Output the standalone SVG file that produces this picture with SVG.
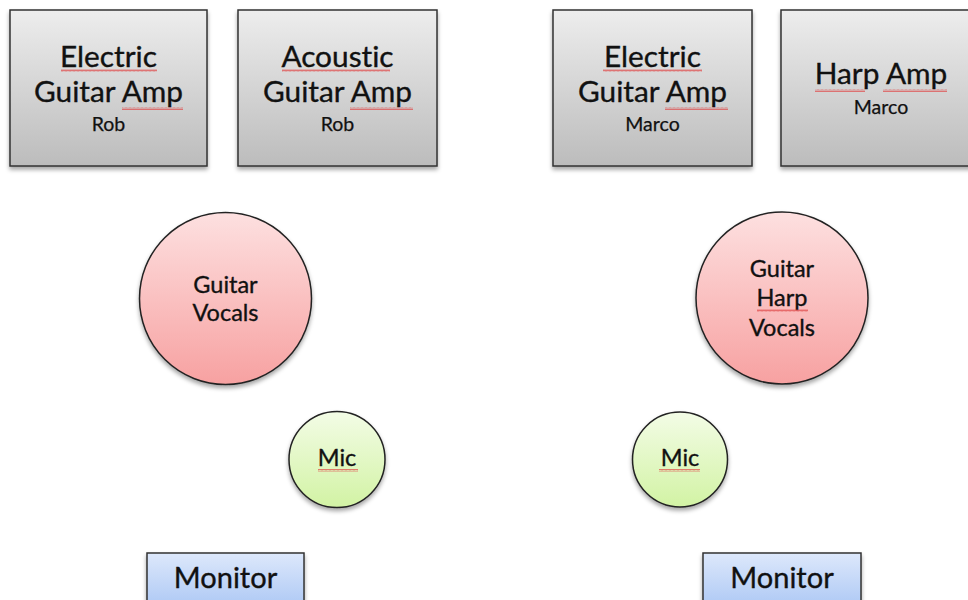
<svg xmlns="http://www.w3.org/2000/svg" width="968" height="600" viewBox="0 0 968 600">
  <defs>
    <linearGradient id="gBox" x1="0" y1="0" x2="0" y2="1">
      <stop offset="0" stop-color="#ededed"/>
      <stop offset="1" stop-color="#bcbcbc"/>
    </linearGradient>
    <linearGradient id="gRed" x1="0" y1="0" x2="0" y2="1">
      <stop offset="0" stop-color="#fde0e0"/>
      <stop offset="1" stop-color="#f7a1a1"/>
    </linearGradient>
    <linearGradient id="gGreen" x1="0" y1="0" x2="0" y2="1">
      <stop offset="0" stop-color="#f3fce6"/>
      <stop offset="1" stop-color="#d2f3a4"/>
    </linearGradient>
    <linearGradient id="gBlue" x1="0" y1="0" x2="0" y2="1">
      <stop offset="0" stop-color="#dde8fb"/>
      <stop offset="1" stop-color="#a8c5f4"/>
    </linearGradient>
    <filter id="shadow" x="-10%" y="-10%" width="130%" height="130%">
      <feDropShadow dx="0" dy="3" stdDeviation="2" flood-color="#000" flood-opacity="0.35"/>
    </filter>
    <pattern id="squig" patternUnits="userSpaceOnUse" width="4" height="3">
      <path d="M0 2.5 L1 0.5 L2 2.5 L3 0.5 L4 2.5" fill="none" stroke="#e04848" stroke-width="0.7"/>
    </pattern>
  </defs>
  <style>
    .box { fill: url(#gBox); stroke: #333; stroke-width: 1.5; filter: url(#shadow); }
    .red { fill: url(#gRed); stroke: #222; stroke-width: 1.5; filter: url(#shadow); }
    .mic { fill: url(#gGreen); stroke: #222; stroke-width: 1.5; filter: url(#shadow); }
    .mon { fill: url(#gBlue); stroke: #333; stroke-width: 1.5; filter: url(#shadow); }
    text { font-family: Lato, "Liberation Sans", sans-serif; font-variant-ligatures: none; fill: #111; stroke: #111; stroke-width: 0.35; text-anchor: middle; }
    .big { font-size: 29.8px; }
    .name { font-size: 19.5px; stroke-width: 0.25; }
    .mid { font-size: 23.5px; }
    .monT { font-size: 29px; }
    .sq { fill: url(#squig); }
  </style>
  <rect width="968" height="600" fill="#ffffff"/>

  <g id="amp-electric-rob">
    <rect class="box" x="10" y="10" width="197" height="156"/>
    <text class="big" x="108.5" y="67">Electric</text>
    <text class="big" x="108.5" y="102">Guitar Amp</text>
    <text class="name" x="108.5" y="131">Rob</text>
    <rect class="sq" x="61" y="69" width="96" height="3"/>
    <rect class="sq" x="122" y="107" width="61" height="3"/>
  </g>

  <g id="amp-acoustic-rob">
    <rect class="box" x="238" y="10" width="199" height="156"/>
    <text class="big" x="337.5" y="67">Acoustic</text>
    <text class="big" x="337.5" y="102">Guitar Amp</text>
    <text class="name" x="337.5" y="131">Rob</text>
    <rect class="sq" x="282" y="69" width="108" height="3"/>
    <rect class="sq" x="350" y="107" width="63" height="3"/>
  </g>

  <g id="amp-electric-marco">
    <rect class="box" x="553" y="10" width="199" height="156"/>
    <text class="big" x="652.5" y="67">Electric</text>
    <text class="big" x="652.5" y="102">Guitar Amp</text>
    <text class="name" x="652.5" y="131">Marco</text>
    <rect class="sq" x="603" y="69" width="99" height="3"/>
    <rect class="sq" x="665" y="107" width="63" height="3"/>
  </g>

  <g id="amp-harp-marco">
    <rect class="box" x="781" y="10" width="199" height="156"/>
    <text class="big" x="881" y="84">Harp Amp</text>
    <text class="name" x="881" y="114">Marco</text>
    <rect class="sq" x="815" y="89" width="50" height="3"/>
    <rect class="sq" x="883" y="89" width="64" height="3"/>
  </g>

  <g id="position-rob">
    <circle class="red" cx="225.5" cy="298.5" r="86"/>
    <text class="mid" x="225.5" y="293">Guitar</text>
    <text class="mid" x="225.5" y="321">Vocals</text>
  </g>

  <g id="position-marco">
    <circle class="red" cx="782" cy="298" r="86"/>
    <text class="mid" x="782" y="277">Guitar</text>
    <text class="mid" x="782" y="306">Harp</text>
    <text class="mid" x="782" y="336">Vocals</text>
    <rect class="sq" x="757" y="309" width="51" height="3"/>
  </g>

  <g id="mic-rob">
    <circle class="mic" cx="337" cy="459.5" r="48"/>
    <text class="mid" x="337" y="466">Mic</text>
    <rect class="sq" x="318" y="469" width="40" height="3"/>
  </g>

  <g id="mic-marco">
    <circle class="mic" cx="680" cy="459.5" r="47.5"/>
    <text class="mid" x="680" y="466">Mic</text>
    <rect class="sq" x="659" y="469" width="41" height="3"/>
  </g>

  <g id="monitor-rob">
    <rect class="mon" x="147" y="553" width="157" height="60"/>
    <text class="monT" x="225.5" y="588">Monitor</text>
  </g>

  <g id="monitor-marco">
    <rect class="mon" x="703" y="553" width="158" height="60"/>
    <text class="monT" x="782" y="588">Monitor</text>
  </g>

  <g id="connectors"/>
</svg>
